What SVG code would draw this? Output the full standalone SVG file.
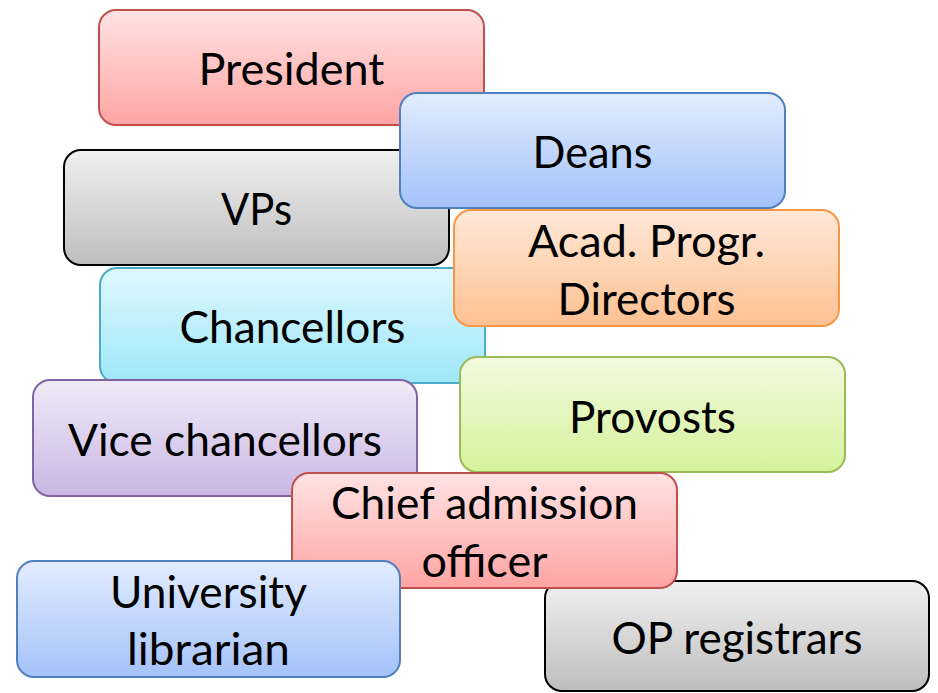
<svg xmlns="http://www.w3.org/2000/svg" width="938" height="693" viewBox="0 0 938 693">
<defs>
<linearGradient id="gRed" x1="0" y1="0" x2="0" y2="1"><stop offset="0" stop-color="#FFE3E3"/><stop offset="1" stop-color="#FFA4A4"/></linearGradient>
<linearGradient id="gBlue" x1="0" y1="0" x2="0" y2="1"><stop offset="0" stop-color="#E2ECFE"/><stop offset="1" stop-color="#A4C2FA"/></linearGradient>
<linearGradient id="gGrey" x1="0" y1="0" x2="0" y2="1"><stop offset="0" stop-color="#F0F0F0"/><stop offset="1" stop-color="#BEBEBE"/></linearGradient>
<linearGradient id="gOrange" x1="0" y1="0" x2="0" y2="1"><stop offset="0" stop-color="#FFE8D8"/><stop offset="1" stop-color="#FEC192"/></linearGradient>
<linearGradient id="gCyan" x1="0" y1="0" x2="0" y2="1"><stop offset="0" stop-color="#DEF8FE"/><stop offset="1" stop-color="#9FE7F9"/></linearGradient>
<linearGradient id="gGreen" x1="0" y1="0" x2="0" y2="1"><stop offset="0" stop-color="#F1FADF"/><stop offset="1" stop-color="#D4F29A"/></linearGradient>
<linearGradient id="gPurple" x1="0" y1="0" x2="0" y2="1"><stop offset="0" stop-color="#F0EBF8"/><stop offset="1" stop-color="#C9B6E4"/></linearGradient>
</defs>
<style>
rect{stroke-width:2}
text{font-family:Lato,"Liberation Sans",sans-serif;font-size:44px;fill:#000;text-anchor:middle}
.red{fill:url(#gRed);stroke:#C0504D}
.blue{fill:url(#gBlue);stroke:#4F81BD}
.grey{fill:url(#gGrey);stroke:#000}
.orange{fill:url(#gOrange);stroke:#F79646}
.cyan{fill:url(#gCyan);stroke:#4BACC6}
.green{fill:url(#gGreen);stroke:#9BBB59}
.purple{fill:url(#gPurple);stroke:#8064A2}
</style>
<g id="connectors"/>
<g id="president"><rect class="red" x="99" y="10" width="385" height="115" rx="17"/><text x="291.5" y="85" textLength="186" lengthAdjust="spacingAndGlyphs">President</text></g>
<g id="vps"><rect class="grey" x="64" y="150" width="385" height="115" rx="17"/><text x="256.5" y="225" textLength="71" lengthAdjust="spacingAndGlyphs">VPs</text></g>
<g id="deans"><rect class="blue" x="400" y="93" width="385" height="115" rx="17"/><text x="592.5" y="168" textLength="120" lengthAdjust="spacingAndGlyphs">Deans</text></g>
<g id="chancellors"><rect class="cyan" x="100" y="268" width="385" height="115" rx="17"/><text x="292.5" y="343" textLength="226" lengthAdjust="spacingAndGlyphs">Chancellors</text></g>
<g id="acad"><rect class="orange" x="454" y="210" width="385" height="116" rx="17"/><text x="646.5" y="257" textLength="237" lengthAdjust="spacingAndGlyphs">Acad. Progr.</text><text x="646.5" y="315" textLength="178" lengthAdjust="spacingAndGlyphs">Directors</text></g>
<g id="provosts"><rect class="green" x="460" y="357" width="385" height="115" rx="17"/><text x="652.5" y="433" textLength="167" lengthAdjust="spacingAndGlyphs">Provosts</text></g>
<g id="vicechancellors"><rect class="purple" x="33" y="380" width="384" height="116" rx="17"/><text x="225" y="456" textLength="314" lengthAdjust="spacingAndGlyphs">Vice chancellors</text></g>
<g id="opregistrars"><rect class="grey" x="545" y="581" width="384" height="110" rx="17"/><text x="737" y="654" textLength="251" lengthAdjust="spacingAndGlyphs">OP registrars</text></g>
<g id="chiefadmission"><rect class="red" x="292" y="473" width="385" height="115" rx="17"/><text x="484.5" y="519" textLength="307" lengthAdjust="spacingAndGlyphs">Chief admission</text><text x="484.5" y="577" textLength="126" lengthAdjust="spacingAndGlyphs">officer</text></g>
<g id="librarian"><rect class="blue" x="17" y="561" width="383" height="116" rx="17"/><text x="208.5" y="608" textLength="197" lengthAdjust="spacingAndGlyphs">University</text><text x="208.5" y="665" textLength="163" lengthAdjust="spacingAndGlyphs">librarian</text></g>
</svg>
